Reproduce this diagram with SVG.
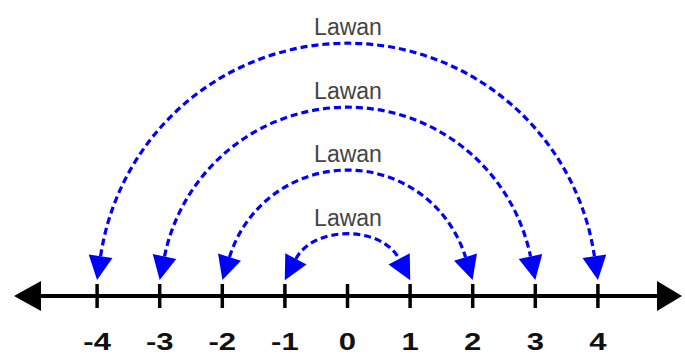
<svg xmlns="http://www.w3.org/2000/svg" width="685" height="355" viewBox="0 0 685 355">
  <style>
    .axis { stroke: #000; stroke-width: 4; fill: none; }
    .tick { stroke: #000; stroke-width: 3.5; }
    .num { font-family: "Liberation Sans", Arial, sans-serif; font-weight: bold; font-size: 23px; fill: #111; text-anchor: middle; }
    .lbl { font-family: "Liberation Sans", Arial, sans-serif; font-size: 23px; fill: #444; text-anchor: middle; }
    .arc { stroke: #0000ff; stroke-width: 3.2; fill: none; stroke-dasharray: 7 4; marker-start: url(#ah); marker-end: url(#ah); }
  </style>
  <defs>
    <marker id="ah" markerUnits="userSpaceOnUse" markerWidth="26" markerHeight="26" refX="0" refY="12" orient="auto-start-reverse" viewBox="0 0 26 26" overflow="visible">
      <path d="M0,0 L24,12 L0,24 Z" fill="#0000ff"/>
    </marker>
  </defs>
  <rect width="685" height="355" fill="#fff"/>

  <g id="number-line">
    <line class="axis" x1="38" y1="296" x2="660" y2="296"/>
    <polygon points="14,296 41,281 41,311" fill="#000"/>
    <polygon points="682,296 657,281 657,311" fill="#000"/>
  </g>

  <g id="n-4"><line class="tick" x1="97.1" y1="284" x2="97.1" y2="308"/><text class="num" transform="translate(97.1,350) scale(1.35,1)">-4</text></g>
  <g id="n-3"><line class="tick" x1="159.7" y1="284" x2="159.7" y2="308"/><text class="num" transform="translate(159.7,350) scale(1.35,1)">-3</text></g>
  <g id="n-2"><line class="tick" x1="222.3" y1="284" x2="222.3" y2="308"/><text class="num" transform="translate(222.3,350) scale(1.35,1)">-2</text></g>
  <g id="n-1"><line class="tick" x1="284.9" y1="284" x2="284.9" y2="308"/><text class="num" transform="translate(284.9,350) scale(1.35,1)">-1</text></g>
  <g id="n0"><line class="tick" x1="347.5" y1="284" x2="347.5" y2="308"/><text class="num" transform="translate(347.5,350) scale(1.35,1)">0</text></g>
  <g id="n1"><line class="tick" x1="410.1" y1="284" x2="410.1" y2="308"/><text class="num" transform="translate(410.1,350) scale(1.35,1)">1</text></g>
  <g id="n2"><line class="tick" x1="472.7" y1="284" x2="472.7" y2="308"/><text class="num" transform="translate(472.7,350) scale(1.35,1)">2</text></g>
  <g id="n3"><line class="tick" x1="535.3" y1="284" x2="535.3" y2="308"/><text class="num" transform="translate(535.3,350) scale(1.35,1)">3</text></g>
  <g id="n4"><line class="tick" x1="597.9" y1="284" x2="597.9" y2="308"/><text class="num" transform="translate(597.9,350) scale(1.35,1)">4</text></g>

  <g id="connectors">
    <path class="arc" d="M100.6,256.2 A249.6,249.6 0 0 1 594.4,256.2"/>
    <path class="arc" d="M164.5,256.5 A186.8,186.8 0 0 1 530.5,256.5"/>
    <path class="arc" d="M229.5,257.1 A123.5,123.5 0 0 1 465.5,257.1"/>
    <path class="arc" d="M295.9,258.9 C313.5,225.3 381.5,225.3 399.1,258.9"/>
  </g>

  <g id="label-4"><text class="lbl" x="348" y="35">Lawan</text></g>
  <g id="label-3"><text class="lbl" x="348" y="98.5">Lawan</text></g>
  <g id="label-2"><text class="lbl" x="348" y="162">Lawan</text></g>
  <g id="label-1"><text class="lbl" x="348" y="226">Lawan</text></g>
</svg>
